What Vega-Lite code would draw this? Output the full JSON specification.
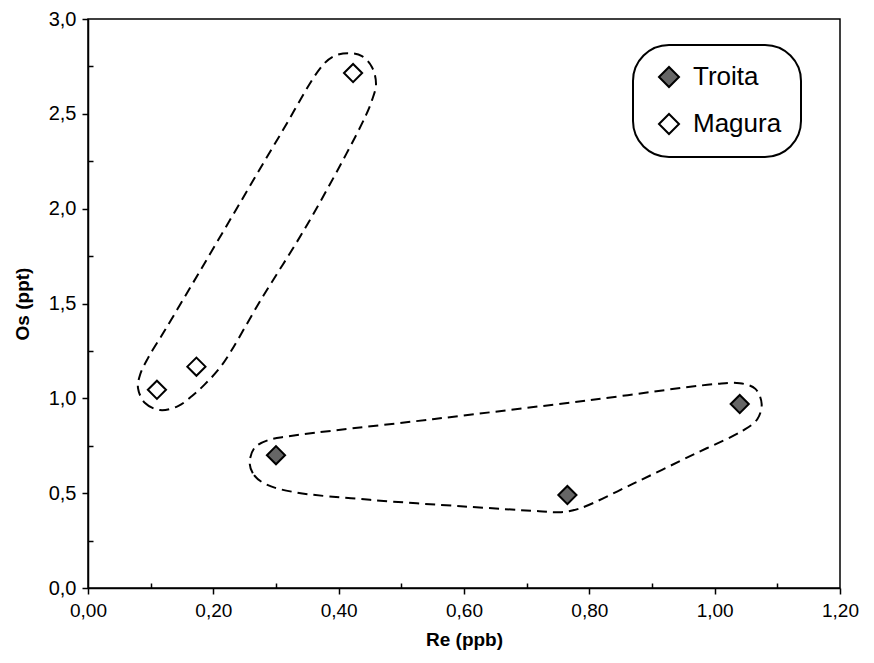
{
  "$schema": "https://vega.github.io/schema/vega-lite/v6.json",
  "width": 752,
  "height": 569,
  "autosize": {"type": "none"},
  "padding": {"left": 88, "top": 19, "right": 34, "bottom": 75},
  "background": "white",
  "config": {
    "view": {"stroke": "black", "strokeWidth": 1.5},
    "font": "Liberation Sans",
    "legend": {"strokeWidth": 2},
    "axis": {
      "grid": false,
      "domainColor": "black",
      "domainWidth": 1.5,
      "tickColor": "black",
      "tickWidth": 1.5,
      "labelFont": "Liberation Sans",
      "labelColor": "black",
      "labelFlush": false,
      "labelOverlap": false,
      "titleFont": "Liberation Sans",
      "titleFontSize": 19,
      "titleFontWeight": "bold",
      "titleColor": "black"
    }
  },
  "datasets": {
    "env": [
      {"group": "Magura", "i": 1, "x": 0.0798, "y": 1.054},
      {"group": "Magura", "i": 2, "x": 0.0910, "y": 0.975},
      {"group": "Magura", "i": 3, "x": 0.1149, "y": 0.938},
      {"group": "Magura", "i": 4, "x": 0.1436, "y": 0.959},
      {"group": "Magura", "i": 5, "x": 0.1660, "y": 1.012},
      {"group": "Magura", "i": 6, "x": 0.1867, "y": 1.075},
      {"group": "Magura", "i": 7, "x": 0.2138, "y": 1.176},
      {"group": "Magura", "i": 8, "x": 0.2776, "y": 1.529},
      {"group": "Magura", "i": 9, "x": 0.3447, "y": 1.887},
      {"group": "Magura", "i": 10, "x": 0.4053, "y": 2.246},
      {"group": "Magura", "i": 11, "x": 0.4436, "y": 2.493},
      {"group": "Magura", "i": 12, "x": 0.4532, "y": 2.572},
      {"group": "Magura", "i": 13, "x": 0.4596, "y": 2.657},
      {"group": "Magura", "i": 14, "x": 0.4532, "y": 2.746},
      {"group": "Magura", "i": 15, "x": 0.4372, "y": 2.804},
      {"group": "Magura", "i": 16, "x": 0.4149, "y": 2.820},
      {"group": "Magura", "i": 17, "x": 0.3925, "y": 2.804},
      {"group": "Magura", "i": 18, "x": 0.3734, "y": 2.752},
      {"group": "Magura", "i": 19, "x": 0.3064, "y": 2.388},
      {"group": "Magura", "i": 20, "x": 0.2425, "y": 2.030},
      {"group": "Magura", "i": 21, "x": 0.1787, "y": 1.671},
      {"group": "Magura", "i": 22, "x": 0.1229, "y": 1.360},
      {"group": "Magura", "i": 23, "x": 0.0957, "y": 1.212},
      {"group": "Magura", "i": 24, "x": 0.0830, "y": 1.123},
      {"group": "Troita", "i": 1, "x": 0.258, "y": 0.66},
      {"group": "Troita", "i": 2, "x": 0.265, "y": 0.595},
      {"group": "Troita", "i": 3, "x": 0.285, "y": 0.545},
      {"group": "Troita", "i": 4, "x": 0.330, "y": 0.505},
      {"group": "Troita", "i": 5, "x": 0.450, "y": 0.465},
      {"group": "Troita", "i": 6, "x": 0.600, "y": 0.43},
      {"group": "Troita", "i": 7, "x": 0.720, "y": 0.405},
      {"group": "Troita", "i": 8, "x": 0.755, "y": 0.40},
      {"group": "Troita", "i": 9, "x": 0.785, "y": 0.42},
      {"group": "Troita", "i": 10, "x": 0.870, "y": 0.55},
      {"group": "Troita", "i": 11, "x": 0.970, "y": 0.71},
      {"group": "Troita", "i": 12, "x": 1.045, "y": 0.83},
      {"group": "Troita", "i": 13, "x": 1.068, "y": 0.89},
      {"group": "Troita", "i": 14, "x": 1.075, "y": 0.97},
      {"group": "Troita", "i": 15, "x": 1.065, "y": 1.05},
      {"group": "Troita", "i": 16, "x": 1.040, "y": 1.08},
      {"group": "Troita", "i": 17, "x": 1.000, "y": 1.075},
      {"group": "Troita", "i": 18, "x": 0.800, "y": 0.99},
      {"group": "Troita", "i": 19, "x": 0.550, "y": 0.89},
      {"group": "Troita", "i": 20, "x": 0.320, "y": 0.80},
      {"group": "Troita", "i": 21, "x": 0.288, "y": 0.78},
      {"group": "Troita", "i": 22, "x": 0.266, "y": 0.74}
    ],
    "pts": [
      {"sample": "Troita", "x": 0.30, "y": 0.70},
      {"sample": "Troita", "x": 0.765, "y": 0.49},
      {"sample": "Troita", "x": 1.04, "y": 0.97},
      {"sample": "Magura", "x": 0.11, "y": 1.045},
      {"sample": "Magura", "x": 0.173, "y": 1.167},
      {"sample": "Magura", "x": 0.423, "y": 2.715}
    ]
  },
  "encoding": {
    "x": {
      "field": "x",
      "type": "quantitative",
      "scale": {"domain": [0, 1.2], "nice": false, "zero": false},
      "axis": {
        "title": "Re (ppb)",
        "titlePadding": 10,
        "labelFontSize": 19,
        "labelPadding": 7,
        "values": [0, 0.1, 0.2, 0.3, 0.4, 0.5, 0.6, 0.7, 0.8, 0.9, 1.0, 1.1, 1.2],
        "labelExpr": "round(datum.value*10)%2==0 ? replace(format(datum.value,'.2f'),'.',',') : ''",
        "tickSize": {"condition": {"test": "round(datum.value*10)%2==0", "value": 6}, "value": -5}
      }
    },
    "y": {
      "field": "y",
      "type": "quantitative",
      "scale": {"domain": [0, 3], "nice": false, "zero": false},
      "axis": {
        "title": "Os (ppt)",
        "titlePadding": 16,
        "labelFontSize": 20,
        "labelPadding": 6,
        "values": [0, 0.25, 0.5, 0.75, 1.0, 1.25, 1.5, 1.75, 2.0, 2.25, 2.5, 2.75, 3.0],
        "labelExpr": "round(datum.value*4)%2==0 ? replace(format(datum.value,'.1f'),'.',',') : ''",
        "tickSize": {"condition": {"test": "round(datum.value*4)%2==0", "value": 6}, "value": -5}
      }
    }
  },
  "layer": [
    {
      "data": {"name": "env"},
      "mark": {"type": "line", "interpolate": "catmull-rom-closed", "strokeDash": [10, 6], "color": "black", "strokeWidth": 2},
      "encoding": {
        "detail": {"field": "group", "type": "nominal"},
        "order": {"field": "i", "type": "quantitative"}
      }
    },
    {
      "data": {"name": "pts"},
      "mark": {"type": "point", "shape": "diamond", "filled": true, "stroke": "black", "strokeWidth": 2, "size": 330, "opacity": 1},
      "encoding": {
        "fill": {
          "field": "sample",
          "type": "nominal",
          "scale": {"domain": ["Troita", "Magura"], "range": ["#666666", "#ffffff"]},
          "legend": {
            "title": null,
            "orient": "none",
            "legendX": 545,
            "legendY": 26,
            "direction": "vertical",
            "strokeColor": "black",
            "cornerRadius": 36,
            "padding": 19,
            "rowPadding": 19,
            "symbolOffset": 4,
            "labelOffset": 11,
            "symbolType": "diamond",
            "symbolSize": 400,
            "symbolStrokeColor": "black",
            "symbolStrokeWidth": 2,
            "labelFont": "Liberation Sans",
            "labelFontSize": 26,
            "labelColor": "black"
          }
        }
      }
    }
  ]
}
